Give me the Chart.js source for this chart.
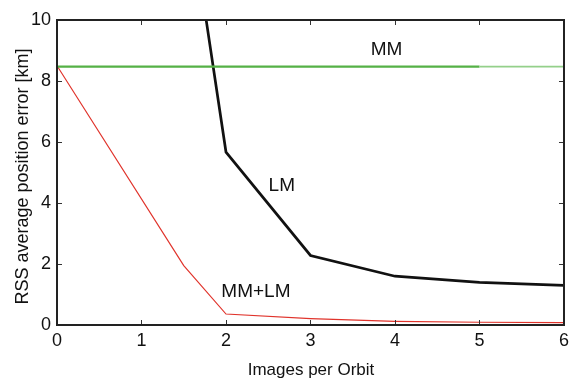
<!DOCTYPE html>
<html><head><meta charset="utf-8">
<script src="https://cdn.jsdelivr.net/npm/chart.js@4/dist/chart.umd.min.js"></script>
<style>html,body{margin:0;padding:0;background:#fff}#wrap{width:574px;height:378px}</style>
</head><body><div id="wrap"><canvas id="c" width="574" height="378"></canvas></div>
<script>
const lmX = [1.5, 2, 3, 4, 5, 6];
const lmY = [14.9, 5.67, 2.28, 1.6, 1.4, 1.3];
const mmlmX = [0, 1.5, 2, 3, 4, 5, 6];
const mmlmY = [8.5, 1.95, 0.36, 0.21, 0.12, 0.09, 0.08];
const mmX = [0, 5, 6];
const mmY = [8.47, 8.47, 8.47];
const xTicks = [0, 1, 2, 3, 4, 5, 6];
const yTicks = [0, 2, 4, 6, 8, 10];
const seriesLabels = ['MM', 'LM', 'MM+LM'];
const labelX = [3.9, 2.66, 2.354];
const labelY = [9.03, 4.56, 1.09];
const xTitle = 'Images per Orbit';
const yTitle = 'RSS average position error [km]';

const FONT = '"Liberation Sans", Arial, sans-serif';
const pts = (xs, ys) => xs.map((x, i) => ({x: x, y: ys[i]}));

const framePlugin = {
  id: 'frame',
  afterDatasetsDraw(chart) {
    const ctx = chart.ctx, a = chart.chartArea;
    const xs = chart.scales.x, ys = chart.scales.y;
    ctx.save();
    // inward ticks
    ctx.strokeStyle = '#333';
    ctx.lineWidth = 1;
    ctx.beginPath();
    xTicks.forEach(v => {
      const px = Math.round(xs.getPixelForValue(v)) + 0.5;
      ctx.moveTo(px, a.bottom); ctx.lineTo(px, a.bottom - 5);
      ctx.moveTo(px, a.top); ctx.lineTo(px, a.top + 5);
    });
    yTicks.forEach(v => {
      const py = Math.round(ys.getPixelForValue(v)) + 0.5;
      ctx.moveTo(a.left, py); ctx.lineTo(a.left + 5, py);
      ctx.moveTo(a.right, py); ctx.lineTo(a.right - 5, py);
    });
    ctx.stroke();
    // frame
    ctx.lineWidth = 2;
    ctx.strokeStyle = '#222';
    ctx.strokeRect(a.left, a.top, a.right - a.left, a.bottom - a.top);
    // in-plot labels
    ctx.fillStyle = '#111';
    ctx.font = '19px ' + FONT;
    ctx.textAlign = 'center';
    ctx.textBaseline = 'middle';
    seriesLabels.forEach((t, i) => {
      ctx.fillText(t, xs.getPixelForValue(labelX[i]), ys.getPixelForValue(labelY[i]));
    });
    // axis titles
    ctx.textBaseline = 'alphabetic';
    ctx.font = '17px ' + FONT;
    ctx.fillText(xTitle, (a.left + a.right) / 2 + 0.5, 375);
    ctx.translate(28, (a.top + a.bottom) / 2 + 4);
    ctx.rotate(-Math.PI / 2);
    ctx.font = '18px ' + FONT;
    ctx.fillText(yTitle, 0, 0);
    ctx.restore();
  }
};

new Chart(document.getElementById('c'), {
  type: 'line',
  data: {
    datasets: [
      {label: 'MM', data: pts(mmX, mmY), borderColor: '#55b146', borderWidth: 2.2, pointRadius: 0, tension: 0,
       segment: {
         borderColor: c => c.p0.parsed.x >= 5 ? '#94d08a' : '#55b146',
         borderWidth: c => c.p0.parsed.x >= 5 ? 1.6 : 2.2
       }},
      {label: 'LM', data: pts(lmX, lmY), borderColor: '#111111', borderWidth: 2.7, pointRadius: 0, tension: 0},
      {label: 'MM+LM', data: pts(mmlmX, mmlmY), borderColor: '#e0332b', borderWidth: 1.2, pointRadius: 0, tension: 0}
    ]
  },
  options: {
    responsive: false,
    animation: false,
    devicePixelRatio: 1,
    layout: {padding: {top: 20, right: 8, left: 0, bottom: 0}},
    plugins: {legend: {display: false}, tooltip: {enabled: false}},
    scales: {
      x: {
        type: 'linear', min: 0, max: 6,
        afterBuildTicks: s => { s.ticks = xTicks.map(v => ({value: v})); },
        afterFit: s => { s.height = 53; },
        grid: {display: false, drawTicks: false},
        border: {display: false},
        ticks: {font: {size: 18, family: FONT}, color: '#111', padding: 5, maxRotation: 0},
        title: {display: false}
      },
      y: {
        type: 'linear', min: 0, max: 10,
        afterBuildTicks: s => { s.ticks = yTicks.map(v => ({value: v})); },
        afterFit: s => { s.width = 57; },
        grid: {display: false, drawTicks: false},
        border: {display: false},
        ticks: {font: {size: 18, family: FONT}, color: '#111', padding: 6},
        title: {display: false}
      }
    }
  },
  plugins: [framePlugin]
});
</script>
</body></html>
